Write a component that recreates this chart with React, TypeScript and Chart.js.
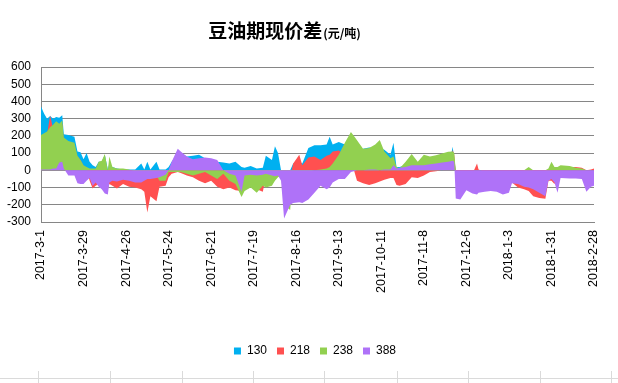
import React, { useEffect, useRef } from 'react';
import { Chart, registerables } from 'chart.js';

Chart.register(...registerables);

// Day offsets counted from 2017-3-1
const days = [
  0, 2, 4, 6, 8, 10, 12, 14, 15, 18, 22, 24, 26, 28, 30, 32, 34, 36, 38, 40,
  42, 44, 45, 47, 50, 54, 58, 62, 66, 68, 70, 72, 76, 78, 82, 84, 86, 90, 92, 96,
  100, 104, 108, 112, 116, 120, 124, 128, 132, 134, 138, 142, 146, 148, 152, 154, 156, 158, 160, 164,
  166, 170, 172, 176, 180, 184, 188, 190, 192, 196, 200, 204, 206, 208, 212, 216, 220, 223, 226, 230,
  232, 234, 236, 240, 244, 248, 252, 256, 260, 264, 268, 271, 272, 273, 276, 280, 284, 287, 288, 292,
  296, 300, 304, 308, 310, 314, 318, 321, 324, 328, 332, 334, 336, 338, 340, 342, 348, 352, 356, 359,
  362, 364,
];

const s130 = [
  370, 330, 300, 315, 300, 310, 305, 320, 210, 205, 195, 110, 105, 65, 100, 50, 30, 20, 50, 50,
  90, 5, 40, 20, 10, 5, 5, 5, 40, 5, 50, 5, 50, 5, 5, 20, 50, 100, 100, 80,
  85, 90, 70, 65, 50, 45, 40, 50, 20, 15, 25, 10, 15, 85, 60, 140, 100, 0, 0, 0,
  40, 50, 40, 130, 145, 145, 150, 195, 150, 165, 150, 120, 110, 100, 125, 133, 130, 130, 120, 90,
  160, 20, 20, 30, 20, 10, 10, 10, 10, 10, 10, 137, 60, 0, 0, 0, 0, 0, 0, 0,
  0, 0, 0, 0, 0, 0, 0, 0, 0, 0, 0, 0, 0, 0, 0, 0, 0, 0, 0, 0,
  0, 0,
];

const s218 = [
  190, 200, 210, 318, 240, 260, 250, 270, 170, 150, 120, 80, 60, 25, 15, -60, -105, -90, -80, -90,
  -100, -110, -80, -90, -105, -80, -95, -100, -110, -125, -245, -150, -180, -95, -90, -40, -20, -10, -15, -30,
  -40, -60, -75, -60, -95, -110, -100, -115, -120, -100, -90, -110, -125, -40, -50, -30, -20, -20, -30, -40,
  40, 90, 30, 75, 80, 60, 85, 90, 110, 115, 90, 20, 0, -60, -75, -85, -75, -65, -55, -45,
  -45, -85, -90, -80, -40, -45, -30, -10, -5, 0, 20, 118, 90, -10, -10, -10, -20, 40, 5, -10,
  -10, -10, -20, -20, -70, -100, -110, -120, -150, -160, -165, -60, -60, -80, -40, 10, 20, 20, 15, 0,
  5, 10,
];

const s238 = [
  205, 215, 225, 250, 265, 285, 270, 290, 190, 170, 160, 85, 60, 30, 20, 10, 10, 10, 50, 55,
  95, 0, 80, 20, 10, 10, 5, -10, -20, -30, -40, -45, -30, -60, -60, -10, -10, -10, -10, -20,
  -30, -20, -10, -30, -50, -20, -60, -80, -155, -120, -100, -130, -90, -100, -90, -60, -40, -30, -200, -230,
  -20, -10, -10, -10, 0, 5, 10, 20, 40, 90, 160, 222, 200, 175, 125, 130, 150, 176, 110, 70,
  80, 20, 10, 50, 95, 50, 90, 80, 88, 98, 108, 110, 100, 0, 0, 0, 0, 0, 0, 0,
  0, 0, 0, 0, 0, 0, 0, 20, 0, 0, 0, 10, 50, 20, 20, 30, 25, 15, 10, 0,
  0, 0,
];

const s388 = [
  5, 5, 5, 5, 10, 10, 45, 50, 10, -30, -30, -75, -80, -80, -60, -45, -90, -70, -95, -110,
  -135, -140, -70, -60, -65, -55, -60, -70, -70, -60, -50, -50, -45, -40, -25, 0, 50, 125, 110, 80,
  65, 70, 75, 70, 60, 0, -20, -30, -125, -30, -25, -30, -25, -20, -30, -35, -30, -60, -280, -200,
  -190, -185, -190, -170, -130, -90, -110, -100, -70, -50, -50, -10, -5, 0, 0, 5, 5, 0, 5, 5,
  30, 10, 15, 20, 30, 30, 30, 35, 40, 45, 50, 55, 50, -163, -170, -115, -135, -140, -130, -125,
  -120, -125, -140, -130, -75, -80, -95, -100, -110, -130, -150, -60, -50, -70, -130, -45, -48, -48, -50, -125,
  -95, -90,
];

const seriesNames = ['130', '218', '238', '388'];
const seriesColors = ['#00B0F0', '#FF5050', '#92D050', '#AF72F8'];
const seriesValues = [s130, s218, s238, s388];

const Y_MIN = -300;
const Y_MAX = 600;
const Y_STEP = 100;
const X_MAX = 364;
const X_STEP = 28;

const START = Date.UTC(2017, 2, 1);
function dayLabel(v: number): string {
  const d = new Date(START + v * 86400000);
  return `${d.getUTCFullYear()}-${d.getUTCMonth() + 1}-${d.getUTCDate()}`;
}

const TITLE_MAIN = '豆油期现价差';
const TITLE_UNIT = '(元/吨)';

// spreadsheet cell borders visible under the chart object
const sheetColumnLines = [38, 110, 182, 253, 324, 397, 468, 540, 611];

const titlePlugin = {
  id: 'cnTitle',
  afterLayout(chart: any) {
    const lg = chart.legend;
    if (lg) {
      lg.left += 18;
      lg.right += 18;
    }
  },
  afterDraw(chart: any) {
    const ctx = chart.ctx;
    ctx.save();
    const mainFont = 'bold 19px "Noto Sans CJK SC"';
    const unitFont = 'bold 12px "Noto Sans CJK SC"';
    ctx.font = mainFont;
    const w1 = ctx.measureText(TITLE_MAIN).width;
    ctx.font = unitFont;
    const w2 = ctx.measureText(TITLE_UNIT).width;
    const cx = 284;
    const x0 = cx - (w1 + w2) / 2;
    ctx.fillStyle = '#000';
    ctx.textBaseline = 'alphabetic';
    ctx.textAlign = 'left';
    ctx.font = mainFont;
    ctx.fillText(TITLE_MAIN, x0, 38);
    ctx.font = unitFont;
    ctx.fillText(TITLE_UNIT, x0 + w1 + 1, 38);
    ctx.restore();
  },
};

export default function App() {
  const ref = useRef<HTMLCanvasElement | null>(null);

  useEffect(() => {
    document.body.style.margin = '0';
    const canvas = ref.current;
    if (!canvas) return;
    const datasets = seriesNames.map((name, i) => ({
      label: name,
      data: days.map((d, j) => ({ x: d, y: seriesValues[i][j] })),
      backgroundColor: seriesColors[i],
      borderColor: seriesColors[i],
      borderWidth: 0,
      pointRadius: 0,
      pointHoverRadius: 0,
      tension: 0,
      fill: 'origin',
      order: seriesNames.length - 1 - i,
    }));
    const chart = new Chart(canvas, {
      type: 'line',
      data: { datasets },
      plugins: [titlePlugin],
      options: {
        animation: false,
        responsive: false,
        maintainAspectRatio: false,
        layout: { padding: { left: 0, right: 24, top: 67, bottom: 16 } },
        plugins: {
          title: { display: false },
          tooltip: { enabled: false },
          legend: {
            position: 'bottom',
            labels: {
              boxWidth: 7,
              boxHeight: 7,
              padding: 10,
              color: '#000',
              font: { family: '"Liberation Sans", Arial, sans-serif', size: 12 },
              sort: (a: any, b: any) => a.datasetIndex - b.datasetIndex,
            },
          },
        },
        scales: {
          x: {
            type: 'linear',
            min: 0,
            max: X_MAX,
            grid: { display: false, drawTicks: false },
            border: { display: true, color: '#868686' },
            ticks: {
              stepSize: X_STEP,
              autoSkip: false,
              minRotation: 90,
              maxRotation: 90,
              padding: 8,
              color: '#000',
              font: { family: '"Liberation Sans", Arial, sans-serif', size: 12.5 },
              callback: (v: any) => dayLabel(Number(v)),
            },
            afterFit: (scale: any) => {
              scale.height = 113;
            },
          },
          y: {
            min: Y_MIN,
            max: Y_MAX,
            grid: { color: '#868686', drawTicks: false },
            border: { display: true, color: '#868686' },
            ticks: {
              stepSize: Y_STEP,
              autoSkip: false,
              padding: 10,
              color: '#000',
              font: { family: '"Liberation Sans", Arial, sans-serif', size: 12 },
            },
            afterFit: (scale: any) => {
              scale.width = 41;
            },
          },
        },
      },
    } as any);
    return () => chart.destroy();
  }, []);

  return (
    <div style={{ width: 618, height: 383, background: '#fff', position: 'relative', overflow: 'hidden' }}>
      <canvas ref={ref} width={618} height={383} style={{ display: 'block' }} />
      <div
        style={{
          position: 'absolute',
          left: 0,
          top: 378,
          width: 618,
          height: 1,
          background: '#dadada',
        }}
      />
      {sheetColumnLines.map((x) => (
        <div
          key={x}
          style={{
            position: 'absolute',
            left: x,
            top: 371,
            width: 1,
            height: 12,
            background: '#dadada',
          }}
        />
      ))}
    </div>
  );
}
